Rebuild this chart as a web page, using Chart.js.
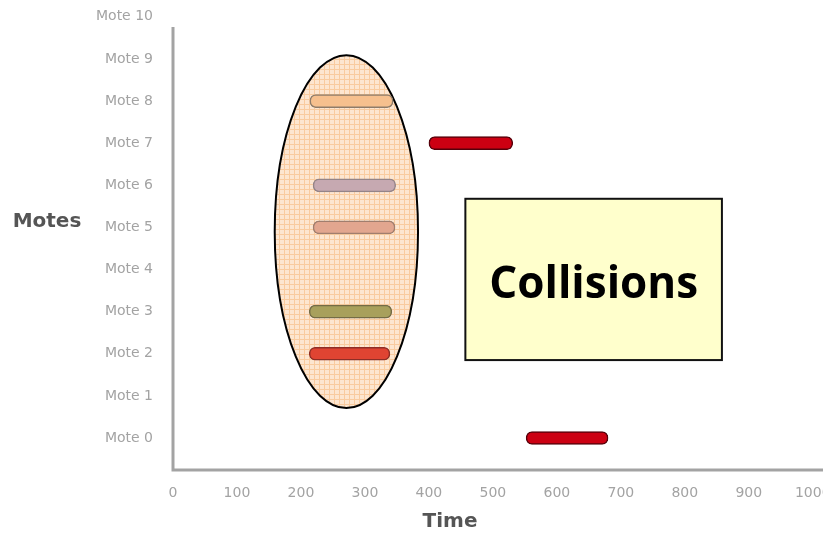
<!DOCTYPE html>
<html>
<head>
<meta charset="utf-8">
<script src="https://cdn.jsdelivr.net/npm/chart.js@4/dist/chart.umd.min.js"></script>
<style>
  html, body { margin: 0; padding: 0; background: #fff; }
  canvas { display: block; }
</style>
</head>
<body>
<canvas id="moteChart" width="823" height="533"></canvas>
<script>
// chart data
const moteLabels = ['Mote 0', 'Mote 1', 'Mote 2', 'Mote 3', 'Mote 4', 'Mote 5',
                    'Mote 6', 'Mote 7', 'Mote 8', 'Mote 9', 'Mote 10'];
const timeTicks = [0, 100, 200, 300, 400, 500, 600, 700, 800, 900, 1000];

const txMotes = [8, 7, 6, 5, 3, 2, 0];
const txStart = [214, 400, 219, 219, 213, 213, 552];
const txEnd   = [344, 531, 348, 347, 342, 339, 680];

const barFill   = ['#f6c08e', '#cc0012', '#c6a9b1', '#e2a68f', '#a8a05c', '#e04432', '#cc0012'];
const barBorder = ['#8e7c6a', '#55000a', '#948488', '#a07e6e', '#746c46', '#8e2e26', '#55000a'];

const GRAY = '#a3a3a3';

// peach cross-hatch used inside the collision ellipse
function hatchPattern(ctx) {
    const c = document.createElement('canvas');
    c.width = 5; c.height = 5;
    const p = c.getContext('2d');
    p.fillStyle = '#fde6d0';
    p.fillRect(0, 0, 5, 5);
    p.fillStyle = '#f9cb9f';
    p.fillRect(4, 0, 1, 5);
    p.fillRect(0, 4, 5, 1);
    return ctx.createPattern(c, 'repeat');
}

const decor = {
    id: 'decor',
    beforeDatasetsDraw(chart) {
        const { ctx, scales: { x, y } } = chart;
        // collision ellipse (in data units)
        const cx = x.getPixelForValue(271), cy = y.getPixelForValue(4.9);
        const rx = x.getPixelForValue(271 + 112) - cx;
        const ry = cy - y.getPixelForValue(4.9 + 4.19);
        ctx.save();
        ctx.beginPath();
        ctx.ellipse(cx, cy, rx, ry, 0, 0, Math.PI * 2);
        ctx.fillStyle = hatchPattern(ctx);
        ctx.fill();
        ctx.lineWidth = 2;
        ctx.strokeStyle = '#000';
        ctx.stroke();
        ctx.restore();
    },
    afterDatasetsDraw(chart) {
        const { ctx, chartArea, scales: { x, y } } = chart;
        ctx.save();
        // axis lines
        ctx.strokeStyle = GRAY;
        ctx.lineWidth = 3;
        ctx.beginPath();
        ctx.moveTo(x.getPixelForValue(0), y.getPixelForValue(9.76));
        ctx.lineTo(x.getPixelForValue(0), chartArea.bottom);
        ctx.lineTo(chartArea.right, chartArea.bottom);
        ctx.stroke();

        // "Collisions" call-out box
        const bx1 = x.getPixelForValue(457), bx2 = x.getPixelForValue(858);
        const by1 = y.getPixelForValue(5.68), by2 = y.getPixelForValue(1.85);
        ctx.fillStyle = '#ffffcc';
        ctx.fillRect(bx1, by1, bx2 - bx1, by2 - by1);
        ctx.lineWidth = 2;
        ctx.strokeStyle = '#111';
        ctx.strokeRect(bx1, by1, bx2 - bx1, by2 - by1);
        ctx.fillStyle = '#000';
        ctx.font = 'bold 44px "Open Sans"';
        ctx.textAlign = 'center';
        ctx.textBaseline = 'middle';
        ctx.fillText('Collisions', (bx1 + bx2) / 2, (by1 + by2) / 2 + 6);

        // axis titles
        ctx.fillStyle = '#555';
        ctx.font = 'bold 20px "DejaVu Sans"';
        ctx.fillText('Motes', 47, 222);
        ctx.fillText('Time', 450, 522);
        ctx.restore();
    }
};

new Chart(document.getElementById('moteChart'), {
    type: 'bar',
    data: {
        datasets: [{
            data: txMotes.map((m, i) => ({ y: m, x: [txStart[i], txEnd[i]] })),
            backgroundColor: barFill,
            borderColor: barBorder,
            borderWidth: 1.5,
            borderRadius: 6,
            borderSkipped: false,
            barThickness: 13
        }]
    },
    options: {
        indexAxis: 'y',
        responsive: false,
        devicePixelRatio: 1,
        animation: false,
        layout: { padding: 0 },
        plugins: { legend: { display: false }, tooltip: { enabled: false } },
        scales: {
            x: {
                type: 'linear',
                min: 0,
                max: 1016,
                offset: false,
                grid: { display: false, drawTicks: false },
                border: { display: false },
                afterBuildTicks: s => { s.ticks = timeTicks.map(v => ({ value: v })); },
                afterFit: s => { s.height = 63; s.paddingLeft = 0; s.paddingRight = 0; },
                ticks: {
                    color: GRAY,
                    font: { family: 'DejaVu Sans', size: 14 },
                    padding: 15,
                    maxRotation: 0,
                    autoSkip: false,
                    callback: v => String(v)
                }
            },
            y: {
                type: 'linear',
                min: -0.76,
                max: 10.4,
                offset: false,
                grid: { display: false, drawTicks: false },
                border: { display: false },
                afterBuildTicks: s => { s.ticks = moteLabels.map((_, i) => ({ value: i })); },
                afterFit: s => { s.width = 173; s.paddingTop = 0; s.paddingBottom = 0; },
                ticks: {
                    color: GRAY,
                    font: { family: 'DejaVu Sans', size: 14 },
                    padding: 20,
                    autoSkip: false,
                    callback: v => moteLabels[v]
                }
            }
        }
    },
    plugins: [decor]
});
</script>
</body>
</html>
